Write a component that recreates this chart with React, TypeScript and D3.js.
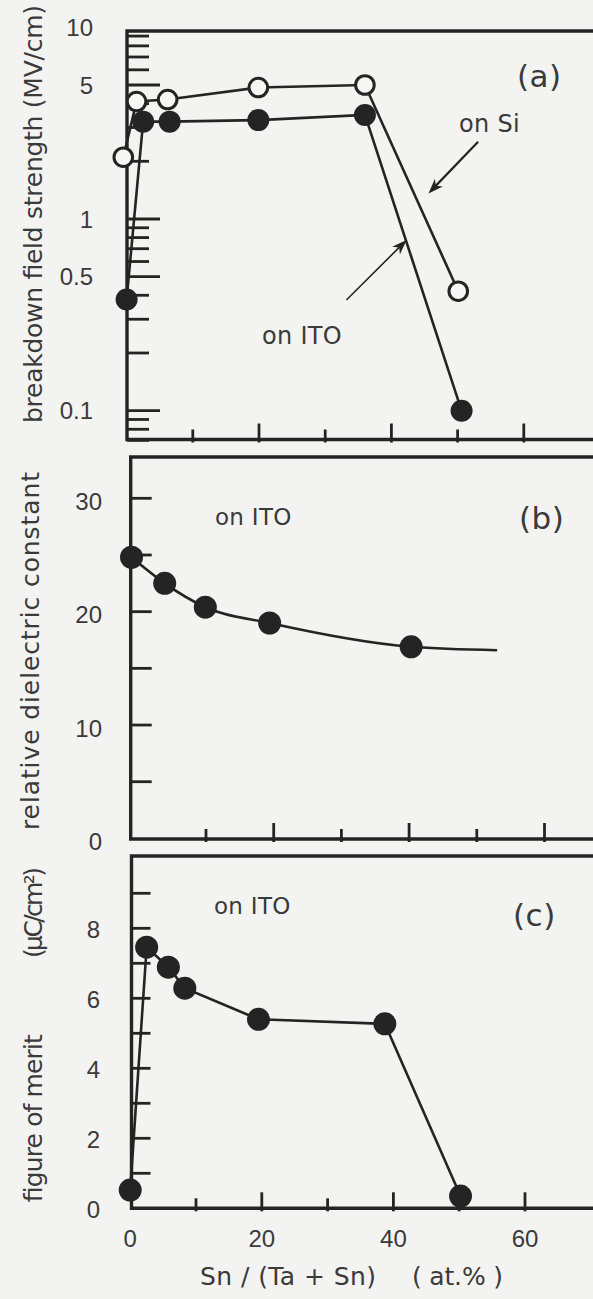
import * as d3 from 'd3';
import React from 'react';

// (a) breakdown field strength (MV/cm), open = on Si, filled = on ITO
const siX = [-0.5, 1.5, 6.2, 19.9, 36.0, 50.1];
const siY = [2.1, 4.1, 4.2, 4.85, 5.0, 0.42];
const itoX = [0, 2.5, 6.5, 19.9, 36.0, 50.6];
const itoY = [0.38, 3.22, 3.22, 3.28, 3.49, 0.1];

// (b) relative dielectric constant on ITO + hand drawn fit curve
const epsX = [-1.0, 3.9, 9.9, 19.4, 40.3];
const epsY = [24.8, 22.5, 20.4, 19.0, 16.9];
const epsFitX = [-1.0, 3.9, 9.9, 19.4, 40.3, 53];
const epsFitY = [24.8, 22.5, 20.4, 19.0, 16.9, 16.6];

// (c) figure of merit (uC/cm2) on ITO
const fomX = [0, 2.5, 5.8, 8.3, 19.5, 38.7, 50.2];
const fomY = [0.52, 7.46, 6.89, 6.29, 5.4, 5.27, 0.35];

// tick values and labels
const aLabels = ['10', '5', '1', '0.5', '0.1'];
const aLong = [10, 5, 1, 0.5, 0.1];
const aShort = [0.07, 0.08, 0.09, 0.2, 0.3, 0.4, 0.6, 0.7, 0.8, 0.9, 2, 3, 4, 6, 7, 8, 9];
const bLabels = ['0', '10', '20', '30'];
const bTicks = [5, 10, 15, 20, 25, 30];
const cLabels = ['0', '2', '4', '6', '8'];
const cTicks = [1, 2, 3, 4, 5, 6, 7, 8, 9];
const xMajor = [20, 40, 60];
const xMinor = [10, 30, 50];
const xLabels = ['0', '20', '40', '60'];

// annotation arrows in panel (a), data coords
const siArrow = [[53.1, 2.53], [45.6, 1.36]];
const itoArrow = [[33.2, 0.378], [42.3, 0.777]];

const INK = '#242424';
const TXT = '#3a3a3a';
const NUM_FONT = '"Liberation Sans", Arial, sans-serif';
const LBL_FONT = '"DejaVu Sans", sans-serif';
const RIGHT = 600;

const zip = (xs, ys) => xs.map((x, i) => [x, ys[i]]);

function Frame({ left, top, bottom }) {
  return (
    <path d={`M${RIGHT},${top} H${left} V${bottom} H${RIGHT}`} fill="none" stroke={INK} strokeWidth={3.4} />
  );
}

function XTicks({ x, bottom }) {
  return (
    <g stroke={INK} strokeWidth={2.8}>
      {xMajor.map((v) => <line key={'M' + v} x1={x(v)} x2={x(v)} y1={bottom + 3} y2={bottom - 16} />)}
      {xMinor.map((v) => <line key={'m' + v} x1={x(v)} x2={x(v)} y1={bottom + 3} y2={bottom - 10} />)}
    </g>
  );
}

function Arrow({ pts, x, y, width }) {
  const [x1, y1] = [x(pts[0][0]), y(pts[0][1])];
  const [x2, y2] = [x(pts[1][0]), y(pts[1][1])];
  const a = Math.atan2(y2 - y1, x2 - x1);
  const len = 15, half = 5.5;
  const bx = x2 - len * Math.cos(a), by = y2 - len * Math.sin(a);
  const head = [
    [x2, y2],
    [bx + half * Math.sin(a), by - half * Math.cos(a)],
    [x2 - len * 0.7 * Math.cos(a), y2 - len * 0.7 * Math.sin(a)],
    [bx - half * Math.sin(a), by + half * Math.cos(a)],
  ];
  return (
    <g>
      <line x1={x1} y1={y1} x2={x2 - 8 * Math.cos(a)} y2={y2 - 8 * Math.sin(a)} stroke={INK} strokeWidth={width} />
      <polygon points={head.map((p) => p.join(',')).join(' ')} fill={INK} />
    </g>
  );
}

export default function App() {
  // panel (a)
  const ax = d3.scaleLinear().domain([0, 60]).range([126.6, 523.8]);
  const ay = d3.scaleLog().domain([0.1, 1]).range([410.7, 219]);
  // panel (b)
  const bx = d3.scaleLinear().domain([0, 60]).range([138.3, 544.5]);
  const by = d3.scaleLinear().domain([0, 30]).range([838.4, 498.3]);
  // panel (c)
  const cx = d3.scaleLinear().domain([0, 60]).range([130.2, 525]);
  const cy = d3.scaleLinear().domain([0, 8]).range([1208.3, 928.3]);

  const lineA = d3.line().x((d) => ax(d[0])).y((d) => ay(d[1]));
  const lineB = d3.line().x((d) => bx(d[0])).y((d) => by(d[1])).curve(d3.curveMonotoneX);
  const lineC = d3.line().x((d) => cx(d[0])).y((d) => cy(d[1]));

  const si = zip(siX, siY);
  const ito = zip(itoX, itoY);
  const eps = zip(epsX, epsY);
  const epsFit = zip(epsFitX, epsFitY);
  const fom = zip(fomX, fomY);

  const aLeft = 127, bLeft = 130.7, cLeft = 131.5;

  return (
    <div style={{ position: 'absolute', left: 0, top: 0, width: 593, height: 1299, background: '#f3f3f1', overflow: 'hidden' }}>
      <svg width={593} height={1299} style={{ display: 'block' }}>
        {/* ---------- panel (a) ---------- */}
        <Frame left={aLeft} top={31} bottom={439.5} />
        <g stroke={INK} strokeWidth={2.8}>
          {aLong.filter((v) => v < 10).map((v) => <line key={v} x1={aLeft} x2={aLeft + 33} y1={ay(v)} y2={ay(v)} />)}
          {aShort.map((v) => <line key={v} x1={aLeft} x2={aLeft + 22} y1={ay(v)} y2={ay(v)} />)}
        </g>
        <XTicks x={ax} bottom={439.5} />
        <g fontFamily={NUM_FONT} fontSize={24} fill={TXT} textAnchor="end">
          {aLong.map((v, i) => <text key={v} x={93} y={ay(v)} dy="0.36em">{aLabels[i]}</text>)}
        </g>
        <path d={lineA(si)} fill="none" stroke={INK} strokeWidth={2.6} />
        <path d={lineA(ito)} fill="none" stroke={INK} strokeWidth={2.6} />
        {ito.map((d, i) => <circle key={'f' + i} cx={ax(d[0])} cy={ay(d[1])} r={11} fill={INK} />)}
        {si.map((d, i) => <circle key={'o' + i} cx={ax(d[0])} cy={ay(d[1])} r={9.3} fill="#f6f6f4" stroke={INK} strokeWidth={3} />)}
        <Arrow pts={siArrow} x={ax} y={ay} width={2.2} />
        <Arrow pts={itoArrow} x={ax} y={ay} width={1.6} />
        <g fontFamily={LBL_FONT} fill={TXT}>
          <text x={517} y={87} fontSize={31} letterSpacing={0.5}>(a)</text>
          <text x={459} y={132} fontSize={24} letterSpacing={0.3}>on Si</text>
          <text x={262} y={344} fontSize={24} letterSpacing={0.3}>on ITO</text>
        </g>
        <text transform="translate(42,423) rotate(-90)" fontFamily={LBL_FONT} fontSize={25} fill={TXT}
          textLength={418} lengthAdjust="spacing">breakdown field strength (MV/cm)</text>

        {/* ---------- panel (b) ---------- */}
        <Frame left={bLeft} top={457} bottom={839} />
        <g stroke={INK} strokeWidth={2.8}>
          {bTicks.map((v) => <line key={v} x1={bLeft} x2={bLeft + 21} y1={by(v)} y2={by(v)} />)}
        </g>
        <XTicks x={bx} bottom={839} />
        <g fontFamily={NUM_FONT} fontSize={24} fill={TXT} textAnchor="end">
          {bLabels.map((t) => <text key={t} x={102} y={by(+t) + 3} dy="0.36em">{t}</text>)}
        </g>
        <path d={lineB(epsFit)} fill="none" stroke={INK} strokeWidth={2.6} />
        {eps.map((d, i) => <circle key={i} cx={bx(d[0])} cy={by(d[1])} r={11.5} fill={INK} />)}
        <g fontFamily={LBL_FONT} fill={TXT}>
          <text x={519} y={529} fontSize={31} letterSpacing={0.5}>(b)</text>
          <text x={215} y={525} fontSize={23} letterSpacing={0.3}>on ITO</text>
        </g>
        <text transform="translate(39,830) rotate(-90)" fontFamily={LBL_FONT} fontSize={25} fill={TXT}
          textLength={358} lengthAdjust="spacing">relative dielectric constant</text>

        {/* ---------- panel (c) ---------- */}
        <Frame left={cLeft} top={856} bottom={1208.3} />
        <g stroke={INK} strokeWidth={2.8}>
          {cTicks.map((v) => <line key={v} x1={cLeft} x2={cLeft + 19} y1={cy(v)} y2={cy(v)} />)}
        </g>
        <XTicks x={cx} bottom={1208.3} />
        <g fontFamily={NUM_FONT} fontSize={24} fill={TXT} textAnchor="end">
          {cLabels.map((t) => <text key={t} x={100} y={cy(+t) + 1} dy="0.36em">{t}</text>)}
        </g>
        <g fontFamily={NUM_FONT} fontSize={24} fill={TXT} textAnchor="middle">
          {xLabels.map((t) => <text key={t} x={cx(+t)} y={1247}>{t}</text>)}
        </g>
        <path d={lineC(fom)} fill="none" stroke={INK} strokeWidth={2.6} />
        {fom.map((d, i) => <circle key={i} cx={cx(d[0])} cy={cy(d[1])} r={11.5} fill={INK} />)}
        <g fontFamily={LBL_FONT} fill={TXT}>
          <text x={513} y={926} fontSize={31} letterSpacing={0.5}>(c)</text>
          <text x={214} y={914} fontSize={23} letterSpacing={0.3}>on ITO</text>
        </g>
        <g fontFamily={LBL_FONT} fontSize={25} fill={TXT}>
          <text transform="translate(42,1203) rotate(-90)" textLength={168} lengthAdjust="spacing">figure of merit</text>
          <text transform="translate(42,958) rotate(-90)" textLength={91} lengthAdjust="spacing">(μC/cm²)</text>
          <text x={200} y={1285} textLength={176} lengthAdjust="spacing">Sn / (Ta + Sn)</text>
          <text x={412} y={1285} textLength={91} lengthAdjust="spacing">( at.% )</text>
        </g>
      </svg>
    </div>
  );
}
